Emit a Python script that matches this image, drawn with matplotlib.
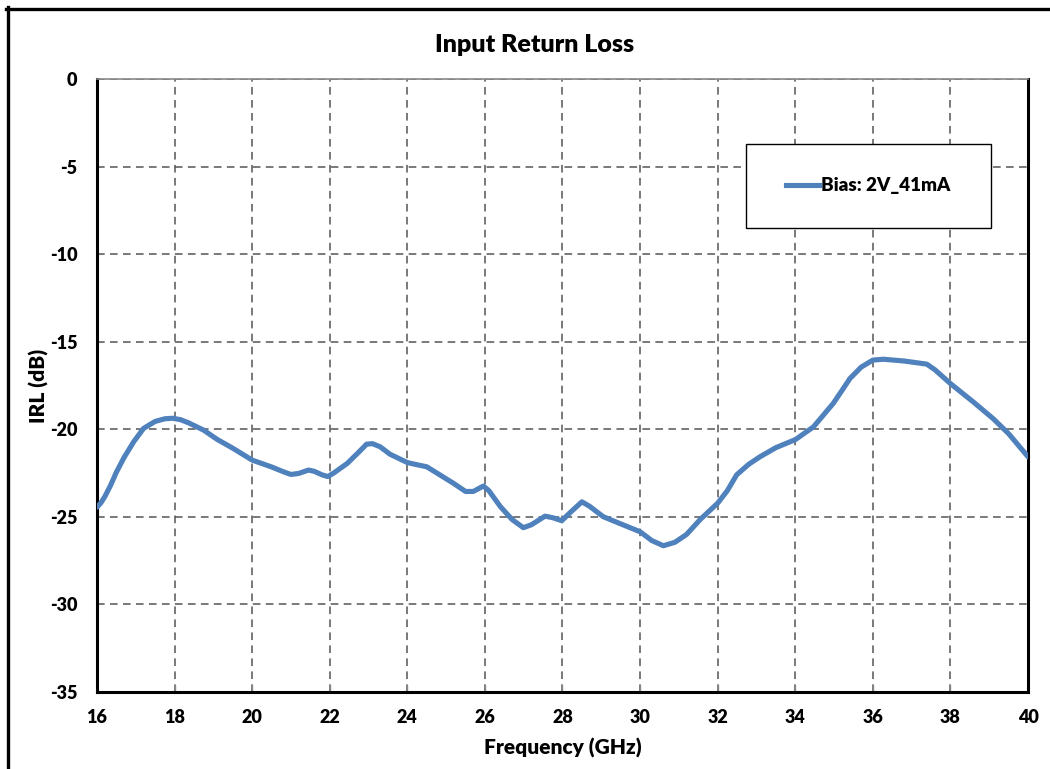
import numpy as np
import matplotlib
matplotlib.use("Agg")
import matplotlib.pyplot as plt
from matplotlib.lines import Line2D
from matplotlib.patches import Rectangle

plt.rcParams['font.family'] = ['Lato', 'DejaVu Sans']
plt.rcParams['axes.unicode_minus'] = False

freq = [16.0, 16.1, 16.2, 16.35, 16.5, 16.7, 16.95, 17.2, 17.5, 17.75, 17.95, 18.15,
        18.35, 18.75, 19.1, 19.5, 20.0, 20.5, 20.8, 21.0, 21.2, 21.45, 21.6, 21.8,
        21.95, 22.1, 22.45, 22.75, 22.95, 23.1, 23.3, 23.55, 24.0, 24.2, 24.5, 24.8,
        25.2, 25.5, 25.7, 25.96, 26.1, 26.4, 26.7, 26.99, 27.2, 27.55, 27.75, 27.98,
        28.2, 28.5, 28.7, 29.05, 29.5, 30.0, 30.3, 30.6, 30.9, 31.2, 31.55, 32.0,
        32.25, 32.49, 32.8, 33.09, 33.5, 34.01, 34.47, 34.98, 35.2, 35.41, 35.7, 36.0,
        36.27, 36.8, 37.39, 37.6, 38.0, 38.59, 39.1, 39.5, 40.0]
irl = [-24.45, -24.2, -23.85, -23.2, -22.45, -21.6, -20.7, -19.95, -19.55, -19.4, -19.37, -19.45,
       -19.62, -20.05, -20.58, -21.08, -21.76, -22.15, -22.42, -22.58, -22.52, -22.33, -22.4, -22.6,
       -22.7, -22.5, -21.95, -21.3, -20.85, -20.82, -21.0, -21.42, -21.9, -22.0, -22.14, -22.55,
       -23.1, -23.55, -23.55, -23.24, -23.5, -24.42, -25.15, -25.62, -25.45, -24.96, -25.05, -25.22,
       -24.75, -24.14, -24.4, -24.99, -25.4, -25.85, -26.35, -26.65, -26.45, -26.0, -25.15, -24.22,
       -23.5, -22.6, -22.0, -21.57, -21.05, -20.58, -19.86, -18.52, -17.8, -17.1, -16.45, -16.05,
       -16.0, -16.1, -16.28, -16.6, -17.39, -18.44, -19.39, -20.25, -21.57]
series_name = 'Bias: 2V_41mA'
xticks = np.arange(16, 41, 2)
yticks = np.arange(-35, 1, 5)

fig = plt.figure(figsize=(10.5, 7.69), dpi=100)
ax = fig.add_axes([97/1050, 1-692/769, (1028-97)/1050, (692-79)/769])

ax.plot(freq, irl, color='#4F81BD', lw=3.7, solid_capstyle='round',
        solid_joinstyle='round', zorder=3)

ax.set_xlim(16, 40)
ax.set_ylim(-35, 0)
ax.set_xticks(xticks)
ax.set_yticks(yticks)
ax.grid(True, color='#555555', ls=(0, (5, 3.5)), lw=1.1)

for s in ['left', 'bottom', 'right']:
    ax.spines[s].set_color('black')
    ax.spines[s].set_linewidth(2.2)
ax.spines['top'].set_color('#888888')
ax.spines['top'].set_linewidth(1.2)

ax.tick_params(axis='x', direction='in', length=5, width=1, color='#888888',
               labelsize=13, pad=12)
ax.tick_params(axis='y', length=0, labelsize=13, pad=14)
for lab in ax.get_xticklabels() + ax.get_yticklabels():
    lab.set_fontweight('heavy')

ax.set_xlabel('Frequency (GHz)', fontsize=15, fontweight='heavy', labelpad=9)
ax.set_ylabel('IRL (dB)', fontsize=15, fontweight='heavy', labelpad=1)
fig.text(535/1050, 1-45/769, 'Input Return Loss', ha='center', va='center',
         fontsize=18, fontweight='heavy')

# legend box
bx0, bx1, by0, by1 = 746, 991, 144, 228
ax.add_patch(Rectangle(((bx0-97)/931, (692-by1)/613), (bx1-bx0)/931, (by1-by0)/613,
                       transform=ax.transAxes, facecolor='white', edgecolor='black',
                       lw=1.0, zorder=4))
leg = ax.legend([Line2D([], [], color='#4F81BD', lw=3.7)], [series_name],
                loc='center', bbox_to_anchor=(((bx0+bx1)/2-97)/931, (692-186)/613),
                frameon=False, handlelength=1.75, handletextpad=0.1,
                prop={'weight': 'heavy', 'size': 13.5})
leg.set_zorder(5)

# outer frame: top and left edges only
fig.add_artist(Line2D([6/1050, 1], [1-8.5/769, 1-8.5/769], color='black', lw=2.4,
                      transform=fig.transFigure))
fig.add_artist(Line2D([7.5/1050, 7.5/1050], [0, 1-7/769], color='black', lw=2.4,
                      transform=fig.transFigure))

fig.savefig('out.png', dpi=100)
